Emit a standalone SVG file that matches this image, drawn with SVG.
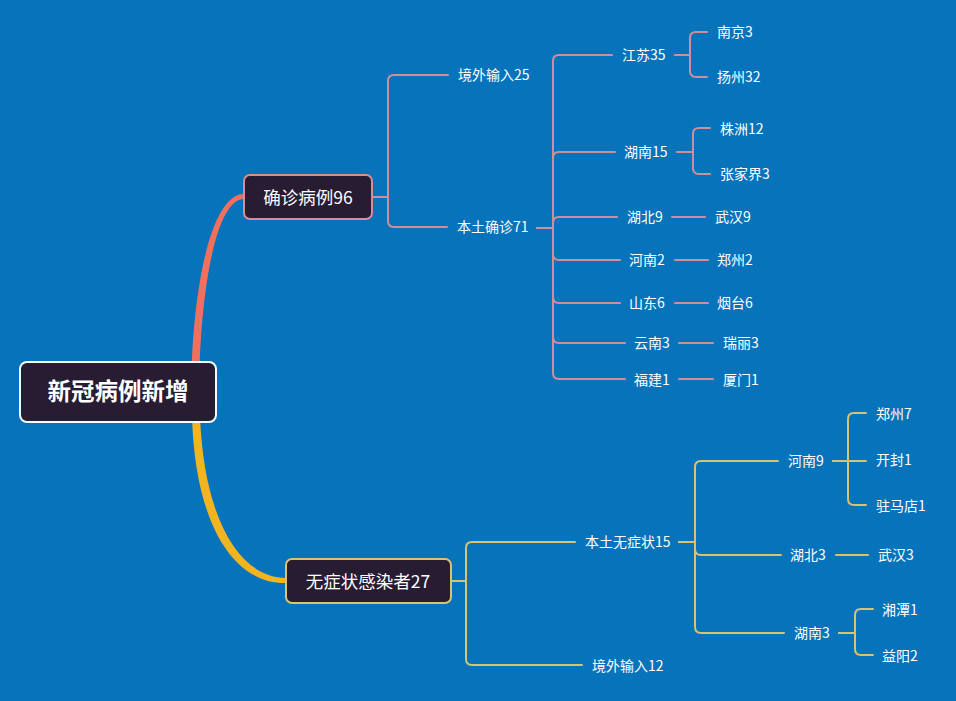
<svg xmlns="http://www.w3.org/2000/svg" width="956" height="701" viewBox="0 0 956 701">
<style>
text{font-family:"Noto Sans CJK SC","Liberation Sans",sans-serif;fill:#ffffff;dominant-baseline:central}
.t{font-size:14px}
.b{font-size:17.5px;text-anchor:middle}
.r{font-size:23.5px;font-weight:bold;text-anchor:middle}
.c1{fill:none;stroke:#CF8E9C;stroke-width:2;stroke-linecap:round;stroke-linejoin:round}
.c2{fill:none;stroke:#D8C36E;stroke-width:2;stroke-linecap:round;stroke-linejoin:round}
.box{fill:#281C33}
</style>
<rect width="956" height="701" fill="#0673BA"/>
<g id="connectors">
<path d="M191 392 C192 288 211 194 244 194 L244 199 C216 199 200 290 199 392 Z" fill="#F07060"/>
<path d="M192 416 C195 525 234 584 286 583 L286 578 C240 578 204 520 200 416 Z" fill="#F2B521"/>
<g class="c1">
<path d="M372 197 H388 V81 Q388 75 394 75 H448"/>
<path d="M372 197 H388 V221 Q388 227 394 227 H447"/>
<path d="M537 228 H553 V61 Q553 55 559 55 H612"/>
<path d="M537 228 H553 V158 Q553 152 559 152 H615"/>
<path d="M537 228 H553 V223 Q553 217 559 217 H617"/>
<path d="M537 228 H553 V254 Q553 260 559 260 H620"/>
<path d="M537 228 H553 V297 Q553 303 559 303 H620"/>
<path d="M537 228 H553 V337 Q553 343 559 343 H625"/>
<path d="M537 228 H553 V373 Q553 379 559 379 H625"/>
<path d="M675 55 H690 V38 Q690 32 696 32 H707"/>
<path d="M675 55 H690 V71 Q690 77 696 77 H707"/>
<path d="M677 152 H693 V134 Q693 128 699 128 H710"/>
<path d="M677 152 H693 V168 Q693 174 699 174 H710"/>
<path d="M672 217 H705"/>
<path d="M675 260 H708"/>
<path d="M675 303 H708"/>
<path d="M679 343 H713"/>
<path d="M679 379 H713"/>
</g>
<g class="c2">
<path d="M451 581 H466 V548 Q466 542 472 542 H575"/>
<path d="M451 581 H466 V659 Q466 665 472 665 H582"/>
<path d="M679 542 H695 V467 Q695 461 701 461 H778"/>
<path d="M679 542 H695 V549 Q695 555 701 555 H781"/>
<path d="M679 542 H695 V627 Q695 633 701 633 H784"/>
<path d="M833 461 H848 V419 Q848 413 854 413 H866"/>
<path d="M833 461 H866"/>
<path d="M833 461 H848 V499 Q848 505 854 505 H866"/>
<path d="M836 555 H868"/>
<path d="M839 633 H855 V615 Q855 609 861 609 H873"/>
<path d="M839 633 H855 V649 Q855 655 861 655 H873"/>
</g>
</g>
<g id="root"><rect x="20" y="362" width="196" height="60" rx="7" class="box" stroke="#F2FBFF" stroke-width="2"/><text class="r" x="118" y="390">新冠病例新增</text></g>
<g id="b1"><rect x="244" y="175" width="128" height="44" rx="6" class="box" stroke="#D98C94" stroke-width="2"/><text class="b" x="308" y="196">确诊病例96</text></g>
<g id="b2"><rect x="286" y="559" width="165" height="44" rx="6" class="box" stroke="#DCC36F" stroke-width="2"/><text class="b" x="368" y="580">无症状感染者27</text></g>
<g id="n-jwsr25"><text class="t" x="458" y="74">境外输入25</text></g>
<g id="n-btqz71"><text class="t" x="457" y="226">本土确诊71</text></g>
<g id="n-js35"><text class="t" x="622" y="54">江苏35</text></g>
<g id="n-nj3"><text class="t" x="717" y="31">南京3</text></g>
<g id="n-yz32"><text class="t" x="717" y="76">扬州32</text></g>
<g id="n-hn15"><text class="t" x="624" y="151">湖南15</text></g>
<g id="n-zz12"><text class="t" x="720" y="128">株洲12</text></g>
<g id="n-zjj3"><text class="t" x="720" y="173">张家界3</text></g>
<g id="n-hb9"><text class="t" x="627" y="216">湖北9</text></g>
<g id="n-wh9"><text class="t" x="715" y="216">武汉9</text></g>
<g id="n-hn2"><text class="t" x="629" y="259">河南2</text></g>
<g id="n-zz2"><text class="t" x="717" y="259">郑州2</text></g>
<g id="n-sd6"><text class="t" x="629" y="302">山东6</text></g>
<g id="n-yt6"><text class="t" x="717" y="302">烟台6</text></g>
<g id="n-yn3"><text class="t" x="634" y="342">云南3</text></g>
<g id="n-rl3"><text class="t" x="723" y="342">瑞丽3</text></g>
<g id="n-fj1"><text class="t" x="634" y="379">福建1</text></g>
<g id="n-xm1"><text class="t" x="723" y="379">厦门1</text></g>
<g id="n-btwzz15"><text class="t" x="585" y="541">本土无症状15</text></g>
<g id="n-jwsr12"><text class="t" x="592" y="665">境外输入12</text></g>
<g id="n-hn9"><text class="t" x="788" y="460">河南9</text></g>
<g id="n-zz7"><text class="t" x="876" y="413">郑州7</text></g>
<g id="n-kf1"><text class="t" x="876" y="459">开封1</text></g>
<g id="n-zmd1"><text class="t" x="876" y="505">驻马店1</text></g>
<g id="n-hb3"><text class="t" x="790" y="554">湖北3</text></g>
<g id="n-wh3"><text class="t" x="878" y="554">武汉3</text></g>
<g id="n-hn3"><text class="t" x="794" y="632">湖南3</text></g>
<g id="n-xt1"><text class="t" x="882" y="609">湘潭1</text></g>
<g id="n-yy2"><text class="t" x="882" y="655">益阳2</text></g>
</svg>
